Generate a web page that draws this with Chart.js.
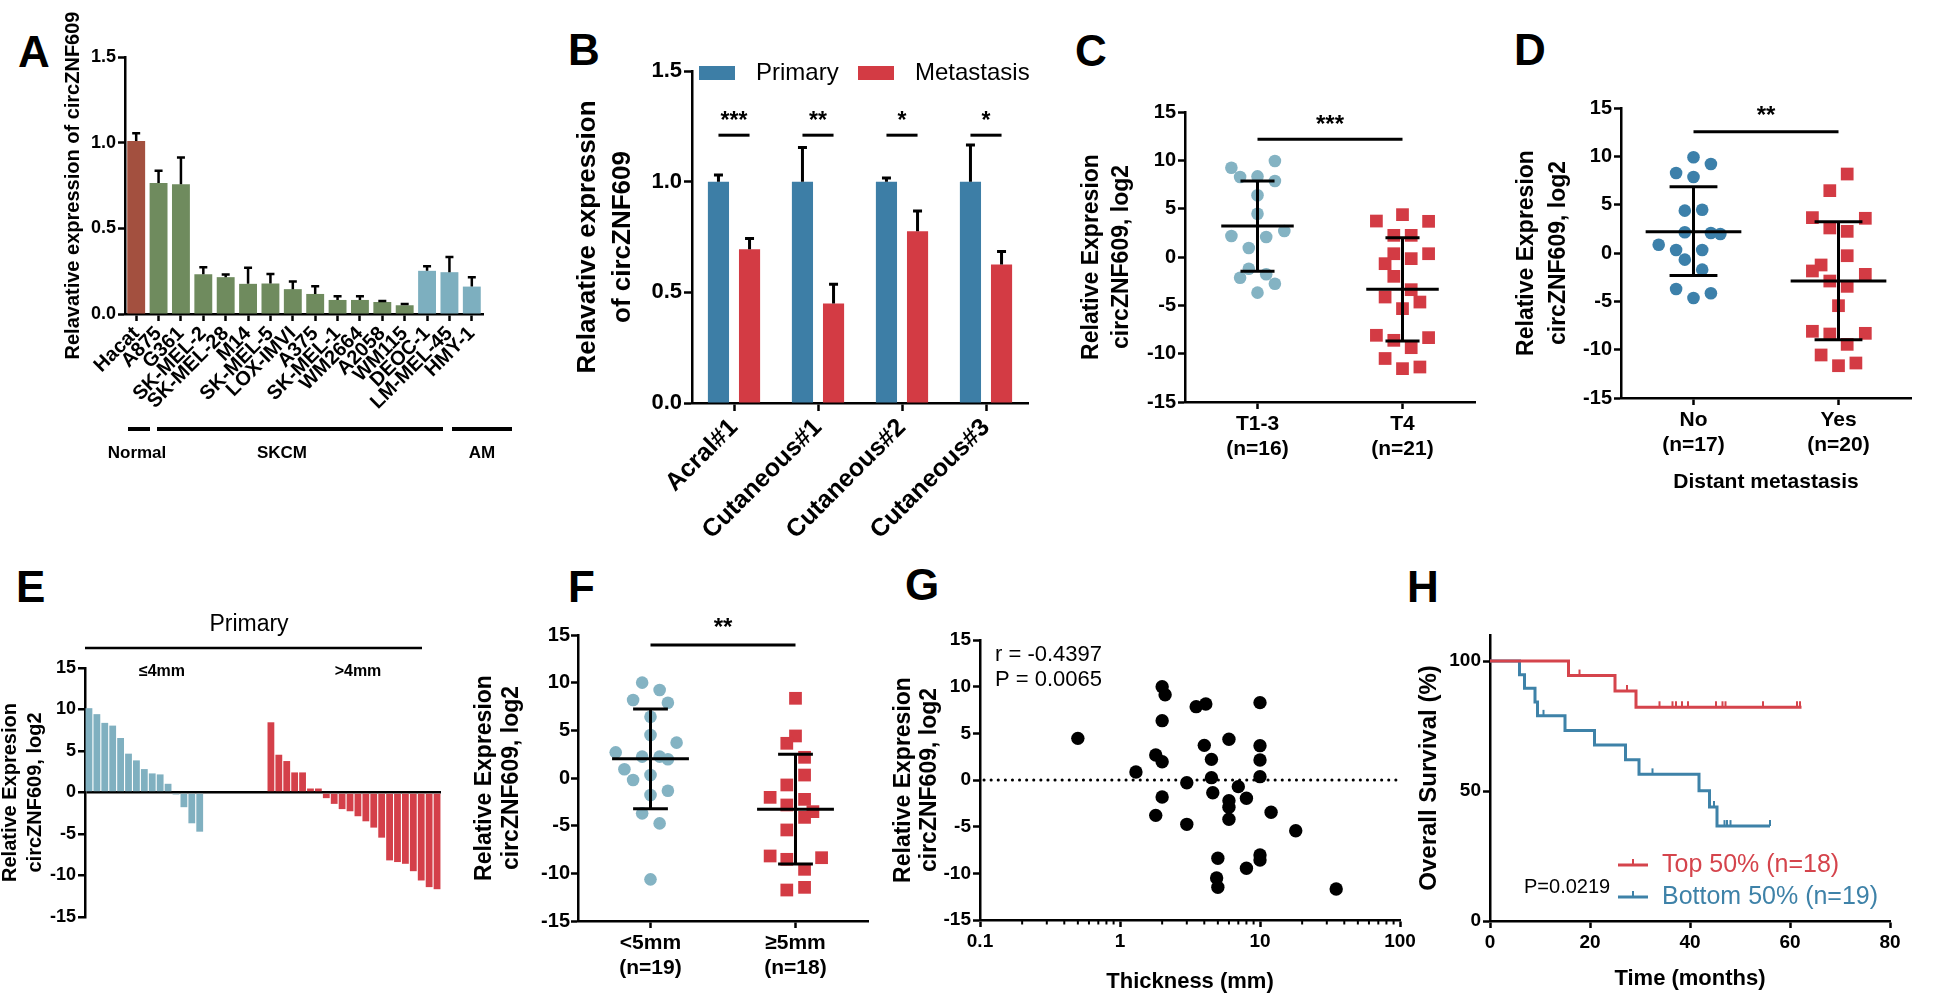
<!DOCTYPE html>
<html>
<head>
<meta charset="utf-8">
<title>circZNF609</title>
<script src="https://cdn.jsdelivr.net/npm/chart.js@4.4.1/dist/chart.umd.min.js"></script>
<style>
  html, body { margin: 0; padding: 0; background: #fff; }
  body { position: relative; width: 1952px; height: 996px; overflow: hidden; font-family: "Liberation Sans", Arial, sans-serif; }
  canvas { position: absolute; }
  .tag { position: absolute; font-weight: bold; font-size: 44px; line-height: 44px; color: #000; }
</style>
</head>
<body>
<div class="tag" style="left:18px;top:30px">A</div>
<div class="tag" style="left:568px;top:28px">B</div>
<div class="tag" style="left:1075px;top:29px">C</div>
<div class="tag" style="left:1514px;top:28px">D</div>
<div class="tag" style="left:16px;top:565px">E</div>
<div class="tag" style="left:568px;top:565px">F</div>
<div class="tag" style="left:905px;top:563px">G</div>
<div class="tag" style="left:1407px;top:565px">H</div>

<canvas id="cA"></canvas>
<canvas id="cB"></canvas>
<canvas id="cC"></canvas>
<canvas id="cD"></canvas>
<canvas id="cE"></canvas>
<canvas id="cF"></canvas>
<canvas id="cG"></canvas>
<canvas id="cH"></canvas>

<script>
// ---- A: cell lines ----
const cellLines = ['Hacat', 'A875', 'G361', 'SK-MEL-2', 'SK-MEL-28', 'M14', 'SK-MEL-5', 'LOX-IMVI',
  'A375', 'SK-MEL-1', 'WM2664', 'A2058', 'WM115', 'DEOC-1', 'LM-MEL-45', 'HMY-1'];
const cellType = ['Normal', 'SKCM', 'SKCM', 'SKCM', 'SKCM', 'SKCM', 'SKCM', 'SKCM',
  'SKCM', 'SKCM', 'SKCM', 'SKCM', 'SKCM', 'AM', 'AM', 'AM'];
const cellMean = [1.01, 0.764, 0.758, 0.232, 0.215, 0.176, 0.178, 0.145, 0.117, 0.082, 0.082, 0.07, 0.051, 0.252, 0.244, 0.16];
const cellErrTop = [1.055, 0.836, 0.914, 0.273, 0.23, 0.27, 0.234, 0.19, 0.162, 0.104, 0.104, 0.076, 0.059, 0.279, 0.332, 0.215];

// ---- B: paired samples ----
const samples = ['Acral#1', 'Cutaneous#1', 'Cutaneous#2', 'Cutaneous#3'];
const primaryMean = [1.0, 1.0, 1.0, 1.0];
const primaryErrTop = [1.03, 1.154, 1.017, 1.166];
const metaMean = [0.695, 0.45, 0.776, 0.626];
const metaErrTop = [0.743, 0.537, 0.867, 0.685];
const pairStars = ['***', '**', '*', '*'];

// ---- C: T stage (pairs are [jitter, value]) ----
const tLabels = [['T1-3', '(n=16)'], ['T4', '(n=21)']];
const tEarly = [[-0.36, 9.24], [0.24, 9.93], [-0.24, 8.28], [0, 8.34], [0.24, 7.86], [0, 6.38], [0, 4.48],
  [-0.36, 2.17], [0.12, 2.07], [0.37, 2.69], [-0.12, 0.93], [-0.12, -1.21], [0.12, -1.79], [-0.24, -2.14],
  [0.24, -2.76], [0, -3.69]];
const tLate = [[-0.36, 3.72], [0, 4.38], [0.36, 3.69], [-0.12, 2.24], [0.12, 2.24], [-0.12, 0.34], [0.12, -0.17],
  [0.36, 0.34], [-0.24, -0.69], [-0.12, -2.0], [0.12, -3.38], [-0.24, -4.14], [0.24, -4.66], [0, -5.34],
  [-0.36, -8.1], [-0.12, -8.62], [0.36, -8.34], [0.12, -9.38], [-0.24, -10.5], [0, -11.55], [0.24, -11.38]];
const tStats = [[3.2, 7.86, -1.48], [-3.34, 2.0, -8.69]];   // mean, +SD, -SD

// ---- D: distant metastasis ----
const mLabels = [['No', '(n=17)'], ['Yes', '(n=20)']];
const mNo = [[0, 9.9], [0.24, 9.2], [-0.24, 8.28], [0, 7.86], [-0.12, 4.38], [0.12, 4.48], [-0.12, 2.14],
  [0.24, 2.07], [0.37, 1.97], [-0.48, 0.86], [-0.24, 0.31], [0.12, 0.31], [-0.12, -0.69], [0.12, -1.72],
  [-0.24, -3.72], [0.24, -4.17], [0, -4.66]];
const mYes = [[0.12, 8.17], [-0.12, 6.45], [-0.36, 3.66], [0.37, 3.59], [-0.12, 2.59], [0.12, 2.24], [0.12, -0.28],
  [-0.24, -1.24], [-0.36, -1.86], [0.37, -2.21], [-0.12, -2.9], [0.12, -3.45], [0, -5.45], [-0.36, -8.1],
  [-0.12, -8.38], [0.37, -8.31], [0.12, -9.45], [-0.24, -10.55], [0, -11.66], [0.24, -11.38]];
const mStats = [[2.2, 6.86, -2.34], [-2.9, 3.24, -8.97]];

// ---- E: waterfall by thickness ----
const wThin = [10.16, 9.44, 8.39, 8.06, 6.57, 4.68, 3.87, 2.82, 2.3, 2.18, 1.05, -0.24, -1.77, -3.71, -4.72];
const wThick = [8.46, 4.55, 3.79, 2.42, 2.42, 0.48, 0.48, -0.68, -1.37, -2.0, -2.26, -2.86, -3.47, -4.23, -5.44,
  -8.18, -8.38, -8.59, -9.48, -10.6, -11.4, -11.65];
const wGap = 8;

// ---- F: thickness 5mm ----
const hLabels = [['<5mm', '(n=19)'], ['\u22655mm', '(n=18)']];
const hThin = [[-0.115, 10.0], [0.126, 9.23], [-0.24, 8.18], [0.24, 7.9], [0, 6.43], [0, 4.51], [0.36, 3.71],
  [-0.48, 2.69], [-0.115, 2.24], [0.126, 2.24], [0.24, 1.96], [-0.36, 0.91], [0, 0.31], [-0.24, -0.21],
  [0.24, -1.33], [0, -1.78], [-0.115, -3.71], [0.126, -4.76], [0, -10.63]];
const hThick = [[0, 8.36], [0, 4.41], [-0.12, 3.64], [0.125, 2.17], [0.125, 0.31], [-0.12, -0.73], [-0.35, -2.03],
  [0.125, -2.24], [-0.12, -2.83], [0.24, -3.53], [0.125, -4.13], [-0.12, -5.45], [-0.35, -8.18], [-0.12, -8.53],
  [0.36, -8.36], [0.125, -9.58], [-0.12, -11.75], [0.125, -11.47]];
const hStats = [[2.03, 7.24, -3.22], [-3.29, 2.48, -9.02]];

// ---- G: correlation ----
const gThickness = [0.5, 1.3, 1.8, 2, 2.1, 2, 2, 2, 1.8, 3, 3, 3.5, 4.1, 4, 4.5, 4.5, 4.6, 5, 4.9, 5,
  6, 6, 6, 6, 7, 8, 8, 10, 10, 10, 10, 10, 10, 12, 18, 35];
const gExpr = [4.46, 0.86, 2.68, 10.0, 9.14, 6.36, 1.96, -1.82, -3.79, -0.29, -4.75, 7.86, 8.14, 3.71, 2.21, 0.25,
  -1.36, -8.39, -10.5, -11.5, 4.36, -2.21, -2.93, -4.21, -0.71, -1.96, -9.46, 8.29, 3.68, 2.14, 0.36, -8.04,
  -8.57, -3.46, -5.43, -11.68];

// ---- H: survival ----
const topTime = [0, 15.7, 25, 29.2, 62.3];
const topSurv = [100, 94.4, 88.5, 82.2, 82.2];
const topCensor = [17.9, 27.4, 33.9, 36.5, 37.2, 38.4, 39.6, 45.2, 46.5, 47.1, 54.6, 61.4, 62.0];
const botTime = [0, 5.9, 6.9, 9.0, 9.5, 15.0, 20.9, 27.1, 29.8, 41.8, 43.9, 45.4, 56.0];
const botSurv = [100, 94.7, 89.5, 84.2, 78.9, 73.3, 67.7, 62.0, 56.4, 50.1, 43.8, 36.5, 36.5];
const botCensor = [10.7, 32.5, 44.8, 46.9, 47.4, 48.1, 56.0];

// ---- colours ----
const cHacat = '#a3503f', cGreen = '#6f8b5e', cAM = '#7dafbf';
const cBlue = '#3d7ea6', cRed = '#d33b44', cLight = '#84b3c3';

Chart.defaults.font.family = '"Liberation Sans", Arial, sans-serif';
Chart.defaults.color = '#000';
Chart.defaults.animation = false;
Chart.defaults.responsive = false;
Chart.defaults.plugins.legend.display = false;
Chart.defaults.plugins.tooltip.enabled = false;

const bold = (size, lh) => ({ size: size, weight: 'bold', lineHeight: lh || 1.2 });

function canvasAt(id, x, y, w, h) {
  const c = document.getElementById(id);
  c.width = w; c.height = h;
  c.style.left = x + 'px'; c.style.top = y + 'px';
  return c;
}

function axis(o) {
  const ax = {
    type: o.type || 'linear',
    ticks: { color: '#000', font: bold(o.fs), padding: o.tpad == null ? 2 : o.tpad, autoSkip: false },
    grid: { drawOnChartArea: false, tickLength: o.tl || 7, tickColor: '#000', tickWidth: 2.5, offset: false },
    border: { color: '#000', width: 2.5 },
  };
  if (o.min != null) ax.min = o.min;
  if (o.max != null) ax.max = o.max;
  if (o.step) ax.ticks.stepSize = o.step;
  if (o.rot != null) { ax.ticks.minRotation = o.rot; ax.ticks.maxRotation = o.rot; }
  if (o.cb) ax.ticks.callback = o.cb;
  if (o.ticks) ax.afterBuildTicks = s => { s.ticks = o.ticks.map(v => ({ value: v })); };
  if (o.width != null) ax.afterFit = s => { s.width = o.width; };
  if (o.height != null) ax.afterFit = s => { s.height = o.height; };
  if (o.title) {
    ax.title = { display: true, text: o.title, color: '#000', font: bold(o.tfs, o.tlh),
      padding: o.height != null ? { top: 0, bottom: o.tp } : { top: o.tp, bottom: 0 } };
  }
  return ax;
}

function stars(ctx, s, x, yc, size) {
  ctx.save();
  ctx.font = 'bold ' + size + 'px "Liberation Sans", Arial, sans-serif';
  ctx.textAlign = 'center'; ctx.textBaseline = 'alphabetic'; ctx.fillStyle = '#000';
  ctx.fillText(s, x, yc + 0.57 * size);
  ctx.restore();
}

function text(ctx, s, x, y, font, align, color) {
  ctx.save();
  ctx.font = font + ' "Liberation Sans", Arial, sans-serif';
  ctx.textAlign = align || 'left'; ctx.textBaseline = 'middle'; ctx.fillStyle = color || '#000';
  ctx.fillText(s, x, y);
  ctx.restore();
}

function hline(ctx, x0, x1, y, w) {
  ctx.beginPath(); ctx.moveTo(x0, y); ctx.lineTo(x1, y); ctx.lineWidth = w; ctx.stroke();
}

function errBars(chart, di, tops, cap, w) {
  const ctx = chart.ctx, y = chart.scales.y;
  ctx.save(); ctx.strokeStyle = '#000'; ctx.lineWidth = w;
  chart.getDatasetMeta(di).data.forEach((bar, i) => {
    const t = y.getPixelForValue(tops[i]);
    ctx.beginPath(); ctx.moveTo(bar.x, bar.y); ctx.lineTo(bar.x, t);
    ctx.moveTo(bar.x - cap, t); ctx.lineTo(bar.x + cap, t); ctx.stroke();
  });
  ctx.restore();
}

// ================= A =================
// group bracket: line from, line to, label centre, label
const groupLines = [[128, 150, 137, 'Normal'], [157, 443, 282, 'SKCM'], [452, 512, 482, 'AM']];
new Chart(canvasAt('cA', 0, 0, 540, 470), {
  type: 'bar',
  data: {
    labels: cellLines,
    datasets: [{
      data: cellMean,
      backgroundColor: cellType.map(t => t === 'Normal' ? cHacat : t === 'AM' ? cAM : cGreen),
      barPercentage: 0.8, categoryPercentage: 1
    }]
  },
  options: {
    layout: { padding: { top: 57, right: 57, left: 0, bottom: 0 } },
    scales: {
      x: axis({ type: 'category', fs: 20, rot: 45, height: 156, tpad: 1 }),
      y: axis({ min: 0, max: 1.5, step: 0.5, fs: 18, width: 125, cb: v => v.toFixed(1) })
    }
  },
  plugins: [{
    id: 'extraA',
    afterDatasetsDraw(chart) { errBars(chart, 0, cellErrTop, 4, 2.5); },
    afterDraw(chart) {
      const ctx = chart.ctx, a = chart.chartArea;
      ctx.save(); ctx.strokeStyle = '#000';
      groupLines.forEach(g => {
        hline(ctx, g[0], g[1], 429, 4);
        text(ctx, g[3], g[2], 453, 'bold 17px', 'center');
      });
      ctx.translate(73, (a.top + a.bottom) / 2); ctx.rotate(-Math.PI / 2);
      text(ctx, 'Relavative expression of circZNF609', 0, 0, 'bold 20px', 'center');
      ctx.restore();
    }
  }]
});

// ================= B =================
new Chart(canvasAt('cB', 540, 0, 520, 540), {
  type: 'bar',
  data: {
    labels: samples,
    datasets: [
      { label: 'Primary', data: primaryMean, backgroundColor: cBlue, barPercentage: 0.68, categoryPercentage: 0.74 },
      { label: 'Metastasis', data: metaMean, backgroundColor: cRed, barPercentage: 0.68, categoryPercentage: 0.74 }
    ]
  },
  options: {
    layout: { padding: { top: 71, right: 32, left: 0, bottom: 0 } },
    scales: {
      x: axis({ type: 'category', fs: 25, rot: 45, height: 137, tl: 8, tpad: 2 }),
      y: axis({ min: 0, max: 1.5, step: 0.5, fs: 22, width: 152, tl: 8, cb: v => v.toFixed(1),
        title: ['Relavative expression', 'of circZNF609'], tfs: 26, tlh: 1.35, tp: 30 })
    }
  },
  plugins: [{
    id: 'extraB',
    afterDatasetsDraw(chart) {
      errBars(chart, 0, primaryErrTop, 4.5, 3);
      errBars(chart, 1, metaErrTop, 4.5, 3);
    },
    afterDraw(chart) {
      const ctx = chart.ctx, y = chart.scales.y;
      const p = chart.getDatasetMeta(0).data, m = chart.getDatasetMeta(1).data;
      ctx.save(); ctx.strokeStyle = '#000';
      samples.forEach((s, i) => {
        hline(ctx, p[i].x, m[i].x, y.getPixelForValue(1.21), 3);
        stars(ctx, pairStars[i], (p[i].x + m[i].x) / 2, y.getPixelForValue(1.3), 23);
      });
      // legend
      const a = chart.chartArea;
      chart.data.datasets.forEach((d, i) => {
        const x0 = a.left + 7 + i * 159;
        ctx.fillStyle = d.backgroundColor; ctx.fillRect(x0, 66, 36, 14);
        text(ctx, d.label, x0 + 57, 73, '24px', 'left');
      });
      ctx.restore();
    }
  }]
});

// ============ dot plots C, D, F ============
function dotPlot(id, box, o) {
  const toPts = (arr, cx) => arr.map(p => ({ x: cx + p[0], y: p[1] }));
  return new Chart(canvasAt(id, box[0], box[1], box[2], box[3]), {
    type: 'scatter',
    data: {
      datasets: [
        { data: toPts(o.g1, 1), pointStyle: 'circle', pointRadius: 6.3, backgroundColor: o.c1, borderWidth: 0 },
        { data: toPts(o.g2, 3), pointStyle: 'rect', pointRadius: 9, backgroundColor: cRed, borderWidth: 0 }
      ]
    },
    options: {
      layout: { padding: o.pad },
      scales: {
        x: Object.assign(axis({ min: 0, max: 4, fs: o.xfs, ticks: [1, 3], height: o.xh, tpad: o.xtp,
          title: o.xtitle, tfs: 21, tp: o.xtitp }),
          { ticks: { color: '#000', font: bold(o.xfs, o.xlh), padding: o.xtp, autoSkip: false, maxRotation: 0,
            callback: v => o.labels[(v - 1) / 2] } }),
        y: axis({ min: -15, max: 15, step: 5, fs: o.yfs, width: o.yw, tpad: o.ytp,
          title: ['Relative Expresion', 'circZNF609, log2'], tfs: 23, tlh: o.tlh, tp: o.tp })
      }
    },
    plugins: [{
      id: 'stats',
      afterDatasetsDraw(chart) {
        const ctx = chart.ctx, x = chart.scales.x, y = chart.scales.y;
        ctx.save(); ctx.strokeStyle = '#000'; ctx.lineWidth = 3;
        o.stats.forEach((s, i) => {
          const cx = i === 0 ? 1 : 3;
          const px = x.getPixelForValue(cx);
          hline(ctx, x.getPixelForValue(cx - o.mw), x.getPixelForValue(cx + o.mw), y.getPixelForValue(s[0]), 3);
          hline(ctx, x.getPixelForValue(cx - o.cw), x.getPixelForValue(cx + o.cw), y.getPixelForValue(s[1]), 3);
          hline(ctx, x.getPixelForValue(cx - o.cw), x.getPixelForValue(cx + o.cw), y.getPixelForValue(s[2]), 3);
          ctx.beginPath(); ctx.moveTo(px, y.getPixelForValue(s[1])); ctx.lineTo(px, y.getPixelForValue(s[2])); ctx.stroke();
        });
        hline(ctx, x.getPixelForValue(1), x.getPixelForValue(3), y.getPixelForValue(o.sigY), 3);
        stars(ctx, o.star, x.getPixelForValue(2), y.getPixelForValue(o.starY), 24);
        ctx.restore();
      }
    }]
  });
}

dotPlot('cC', [1065, 0, 430, 520], {
  g1: tEarly, g2: tLate, c1: cLight, stats: tStats, labels: tLabels,
  pad: { top: 112, right: 20, left: 0, bottom: 0 }, yw: 120, xh: 118, xfs: 21, xlh: 1.19, xtp: 3,
  yfs: 20, ytp: 2, tlh: 1.3, tp: 12, mw: 0.5, cw: 0.235, sigY: 12.17, starY: 14.3, star: '***'
});

dotPlot('cD', [1495, 0, 457, 510], {
  g1: mNo, g2: mYes, c1: '#3c80aa', stats: mStats, labels: mLabels,
  pad: { top: 108, right: 41, left: 0, bottom: 0 }, yw: 126, xh: 112, xfs: 21, xlh: 1.19, xtp: 3,
  yfs: 20, ytp: 2, tlh: 1.39, tp: 16, mw: 0.66, cw: 0.33, sigY: 12.55, starY: 14.9, star: '**',
  xtitle: 'Distant metastasis', xtitp: 15
});

dotPlot('cF', [455, 560, 425, 436], {
  g1: hThin, g2: hThick, c1: cLight, stats: hStats, labels: hLabels,
  pad: { top: 75, right: 12, left: 0, bottom: 0 }, yw: 123, xh: 75, xfs: 21, xlh: 1.19, xtp: 3,
  yfs: 20, ytp: 1, tlh: 1.17, tp: 16, mw: 0.53, cw: 0.24, sigY: 13.95, starY: 16.4, star: '**'
});

// ================= E =================
const wValues = wThin.concat(new Array(wGap).fill(null), wThick);
const wColors = wThin.map(() => '#80b0c0').concat(new Array(wGap).fill('#fff'), wThick.map(() => '#d4404a'));
new Chart(canvasAt('cE', 0, 560, 455, 400), {
  type: 'bar',
  data: {
    labels: wValues.map((v, i) => String(i + 1)),
    datasets: [{ data: wValues, backgroundColor: wColors, barPercentage: 0.86, categoryPercentage: 1 }]
  },
  options: {
    layout: { padding: { top: 108, right: 14, left: 0, bottom: 43 } },
    scales: {
      x: { type: 'category', display: false },
      y: Object.assign(axis({ min: -15, max: 15, step: 5, fs: 18, width: 85, tpad: 2,
        title: ['Relative Expresion', 'circZNF609, log2'], tfs: 20, tlh: 1.25, tp: -2 }), {
        grid: { drawOnChartArea: true, tickLength: 7, tickColor: '#000', tickWidth: 2.5, lineWidth: 2.5,
          color: c => c.tick && c.tick.value === 0 ? '#000' : 'rgba(0,0,0,0)' }
      })
    }
  },
  plugins: [{
    id: 'extraE',
    afterDraw(chart) {
      const ctx = chart.ctx, a = chart.chartArea;
      ctx.save(); ctx.strokeStyle = '#000';
      text(ctx, 'Primary', 249, 65, '23px', 'center');
      hline(ctx, a.left, 422, 88, 2.5);
      text(ctx, '\u22644mm', 162, 112, 'bold 16px', 'center');
      text(ctx, '>4mm', 358, 112, 'bold 16px', 'center');
      ctx.restore();
    }
  }]
});

// ================= G =================
new Chart(canvasAt('cG', 880, 560, 545, 436), {
  type: 'scatter',
  data: {
    datasets: [{
      data: gThickness.map((t, i) => ({ x: t, y: gExpr[i] })),
      pointRadius: 6.7, backgroundColor: '#000', borderWidth: 0
    }]
  },
  options: {
    layout: { padding: { top: 80, right: 25, left: 0, bottom: 0 } },
    scales: {
      x: axis({ type: 'logarithmic', min: 0.1, max: 100, fs: 19, ticks: [0.1, 1, 10, 100], height: 76, tpad: 3,
        cb: v => (v < 1 ? v.toFixed(1) : String(v)), title: 'Thickness (mm)', tfs: 22, tp: 1 }),
      y: axis({ min: -15, max: 15, step: 5, fs: 19, width: 100, tpad: 2,
        title: ['Relative Expresion', 'circZNF609, log2'], tfs: 23, tlh: 1.13, tp: 11 })
    }
  },
  plugins: [{
    id: 'extraG',
    beforeDatasetsDraw(chart) {
      const ctx = chart.ctx, a = chart.chartArea, y0 = chart.scales.y.getPixelForValue(0);
      ctx.save(); ctx.strokeStyle = '#000'; ctx.lineWidth = 3; ctx.lineCap = 'round';
      ctx.setLineDash([0.1, 7]);
      hline(ctx, a.left + 4, a.right, y0, 3);
      ctx.restore();
    },
    afterDraw(chart) {
      const ctx = chart.ctx, a = chart.chartArea, x = chart.scales.x;
      ctx.save(); ctx.strokeStyle = '#000'; ctx.lineWidth = 2;
      [0.1, 1, 10].forEach(d => {
        for (let m = 2; m <= 9; m++) {
          const px = x.getPixelForValue(m * d);
          ctx.beginPath(); ctx.moveTo(px, a.bottom); ctx.lineTo(px, a.bottom + 4.5); ctx.stroke();
        }
      });
      text(ctx, 'r = -0.4397', a.left + 15, a.top + 15, '22px', 'left');
      text(ctx, 'P = 0.0065', a.left + 15, a.top + 40, '22px', 'left');
      ctx.restore();
    }
  }]
});

// ================= H =================
const survAt = (times, surv, t) => {
  let s = surv[0];
  times.forEach((tt, i) => { if (tt <= t) s = surv[i]; });
  return s;
};
const kmSets = [
  { label: 'Top 50% (n=18)', time: topTime, surv: topSurv, cens: topCensor, color: '#d5444c' },
  { label: 'Bottom 50% (n=19)', time: botTime, surv: botSurv, cens: botCensor, color: '#3e82a8' }
];
new Chart(canvasAt('cH', 1400, 560, 552, 436), {
  type: 'line',
  data: {
    datasets: kmSets.map(k => ({
      label: k.label,
      data: k.time.map((t, i) => ({ x: t, y: k.surv[i] })),
      borderColor: k.color, borderWidth: 3, pointRadius: 0, stepped: true, fill: false
    }))
  },
  options: {
    layout: { padding: { top: 75, right: 62, left: 0, bottom: 0 } },
    scales: {
      x: axis({ min: 0, max: 80, step: 20, fs: 19, height: 75, tpad: 3,
        title: 'Time (months)', tfs: 22, tp: 4 }),
      y: axis({ min: 0, max: 110, fs: 19, ticks: [0, 50, 100], width: 90, tpad: 2,
        title: 'Overall Survival (%)', tfs: 24, tp: 15 })
    }
  },
  plugins: [{
    id: 'extraH',
    afterDatasetsDraw(chart) {
      const ctx = chart.ctx, x = chart.scales.x, y = chart.scales.y;
      ctx.save(); ctx.lineWidth = 2;
      kmSets.forEach(k => {
        ctx.strokeStyle = k.color;
        k.cens.forEach(t => {
          const px = x.getPixelForValue(t), py = y.getPixelForValue(survAt(k.time, k.surv, t));
          ctx.beginPath(); ctx.moveTo(px, py); ctx.lineTo(px, py - 6); ctx.stroke();
        });
      });
      ctx.restore();
    },
    afterDraw(chart) {
      const ctx = chart.ctx, a = chart.chartArea;
      ctx.save();
      text(ctx, 'P=0.0219', a.left + 34, a.bottom - 34, '20px', 'left');
      kmSets.forEach((k, i) => {
        const ly = a.bottom - 56 + i * 32, lx = a.left + 128;
        ctx.strokeStyle = k.color;
        hline(ctx, lx, lx + 30, ly, 3);
        ctx.lineWidth = 2; ctx.beginPath(); ctx.moveTo(lx + 15, ly); ctx.lineTo(lx + 15, ly - 6); ctx.stroke();
        text(ctx, k.label, lx + 44, ly, '25px', 'left', k.color);
      });
      ctx.restore();
    }
  }]
});
</script>
</body>
</html>
